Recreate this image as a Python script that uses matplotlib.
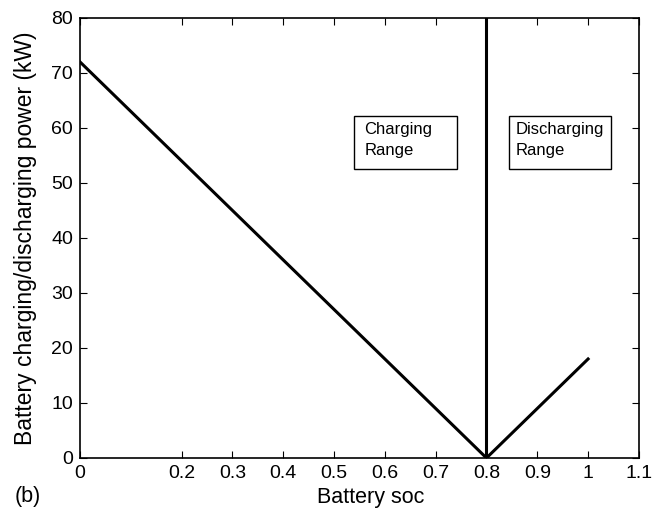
import matplotlib.pyplot as plt
from matplotlib.patches import Rectangle

plt.rcParams['font.family'] = ['Liberation Sans', 'DejaVu Sans']

# charging branch (soc rising to the switch point), discharging branch, switch line
soc_charge = [0.0, 0.8]
power_charge = [72, 0]
soc_discharge = [0.8, 1.0]
power_discharge = [0, 18]
soc_switch = [0.8, 0.8]
power_switch = [0, 80]

xticks = [0, 0.2, 0.3, 0.4, 0.5, 0.6, 0.7, 0.8, 0.9, 1.0, 1.1]
xticklabels = ['0', '0.2', '0.3', '0.4', '0.5', '0.6', '0.7', '0.8', '0.9', '1', '1.1']
yticks = [0, 10, 20, 30, 40, 50, 60, 70, 80]

fig = plt.figure(figsize=(6.69, 5.12), dpi=100)
ax = fig.add_axes([0.1196, 0.1055, 0.8354, 0.8595])

ax.plot(soc_charge, power_charge, color='black', lw=2.2)
ax.plot(soc_discharge, power_discharge, color='black', lw=2.2)
ax.plot(soc_switch, power_switch, color='black', lw=2.2)

ax.set_xlim(0, 1.1)
ax.set_ylim(0, 80)
ax.set_xticks(xticks)
ax.set_xticklabels(xticklabels)
ax.set_yticks(yticks)
ax.tick_params(direction='in', top=True, right=True, length=5, labelsize=14, pad=5)
for s in ax.spines.values():
    s.set_linewidth(1.2)

ax.set_xlabel('Battery soc', fontsize=15.5, labelpad=2)
ax.xaxis.set_label_coords(0.52, -0.065)
ax.set_ylabel('Battery charging/discharging power (kW)', fontsize=16.5, labelpad=10)

# annotation boxes
ax.add_patch(Rectangle((0.539, 52.5), 0.203, 9.7, fill=False, lw=1, ec='black'))
ax.text(0.560, 61.0, 'Charging\nRange', fontsize=12, va='top', ha='left', linespacing=1.45)
ax.add_patch(Rectangle((0.844, 52.5), 0.201, 9.7, fill=False, lw=1, ec='black'))
ax.text(0.857, 61.0, 'Discharging\nRange', fontsize=12, va='top', ha='left', linespacing=1.45)

fig.text(0.022, 0.02, '(b)', fontsize=15.5)

fig.savefig('out.png', dpi=100)
